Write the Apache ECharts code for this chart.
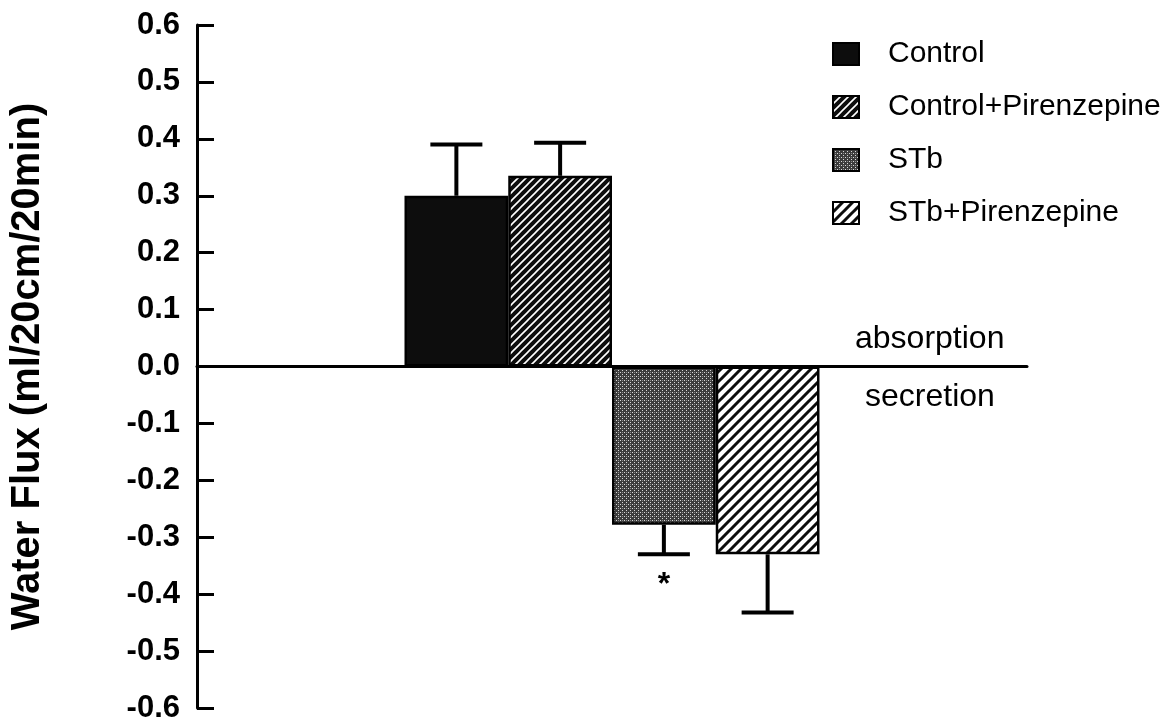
<!DOCTYPE html>
<html>
<head>
<meta charset="utf-8">
<script src="https://cdn.jsdelivr.net/npm/echarts@6/dist/echarts.min.js"></script>
<style>
html,body{margin:0;padding:0;background:#fff;}
#chart{width:1175px;height:725px;}
</style>
</head>
<body>
<div id="chart"></div>
<script>
// ---- data ----
const categories = ['Control', 'Control+Pirenzepine', 'STb', 'STb+Pirenzepine'];
const means = [0.30, 0.335, -0.278, -0.33];
const errors = [0.09, 0.058, 0.052, 0.102];
const significance = ['', '', '*', ''];
const yMin = -0.6, yMax = 0.6, yStep = 0.1;
const axisTitle = 'Water Flux (ml/20cm/20min)';
const zoneAbove = 'absorption';
const zoneBelow = 'secretion';

const FONT = 'Liberation Sans, Arial, Helvetica, sans-serif';

// ---- fill patterns ----
function makeTile(w, h, draw) {
  const c = document.createElement('canvas');
  c.width = w; c.height = h;
  const ctx = c.getContext('2d');
  draw(ctx, w, h);
  return { image: c, repeat: 'repeat' };
}
function diag(ctx, s, color, lw) {
  ctx.strokeStyle = color; ctx.lineWidth = lw;
  ctx.beginPath();
  for (let k = -1; k <= 1; k++) {
    ctx.moveTo(k * s - 1, s + 1);
    ctx.lineTo(k * s + s + 1, -1);
  }
  ctx.stroke();
}
const fills = [
  '#0d0d0d',
  makeTile(8, 8, (ctx, w, h) => { ctx.fillStyle = '#0d0d0d'; ctx.fillRect(0, 0, w, h); diag(ctx, 8, '#ffffff', 1.6); }),
  makeTile(4, 4, (ctx, w, h) => { ctx.fillStyle = '#3c3c3c'; ctx.fillRect(0, 0, w, h); ctx.fillStyle = '#d8d8d8'; ctx.fillRect(0, 0, 1, 1); ctx.fillRect(2, 2, 1, 1); ctx.fillStyle = '#888'; ctx.fillRect(2, 0, 1, 1); }),
  makeTile(10, 10, (ctx, w, h) => { ctx.fillStyle = '#ffffff'; ctx.fillRect(0, 0, w, h); diag(ctx, 10, '#0d0d0d', 3); })
];

const padCats = ['_p1', '_p2'];
const padCatsEnd = ['_p3', '_p4'];
const xCats = padCats.concat(categories, padCatsEnd);

const chart = echarts.init(document.getElementById('chart'), null, { renderer: 'canvas' });

const barSeries = categories.map((name, i) => ({
  name: name,
  type: 'bar',
  data: [[name, means[i]]],
  barGap: '-100%',
  barCategoryGap: '0%',
  barWidth: '100%',
  itemStyle: { color: fills[i], borderColor: '#000', borderWidth: 2.5 },
  emphasis: { disabled: true },
  z: 2
}));

const errorSeries = {
  type: 'custom',
  name: 'err',
  data: categories.map((name, i) => [name, means[i], errors[i]]),
  z: 3,
  silent: true,
  renderItem: function (params, api) {
    const x = api.value(0);
    const m = api.value(1);
    const e = api.value(2);
    const end = m >= 0 ? m + e : m - e;
    const p0 = api.coord([x, m]);
    const p1 = api.coord([x, end]);
    const half = 26;
    const children = [
      { type: 'line', shape: { x1: p0[0], y1: p0[1], x2: p1[0], y2: p1[1] }, style: { stroke: '#000', lineWidth: 4 } },
      { type: 'line', shape: { x1: p1[0] - half, y1: p1[1], x2: p1[0] + half, y2: p1[1] }, style: { stroke: '#000', lineWidth: 4 } }
    ];
    const s = significance[params.dataIndex];
    if (s) {
      children.push({ type: 'text', style: { text: s, x: p1[0], y: p1[1] + 31, align: 'center', verticalAlign: 'middle', fontSize: 32, fontWeight: 'bold', fontFamily: FONT, fill: '#000' } });
    }
    return { type: 'group', children: children };
  }
};

chart.setOption({
  animation: false,
  backgroundColor: '#fff',
  grid: { left: 183, right: 148, top: 25, bottom: 17, containLabel: false },
  xAxis: {
    type: 'category',
    data: xCats,
    axisLine: { onZero: true, lineStyle: { color: '#000', width: 3 } },
    axisTick: { show: false },
    axisLabel: { show: false },
    splitLine: { show: false }
  },
  yAxis: {
    type: 'value',
    min: yMin, max: yMax, interval: yStep,
    name: axisTitle,
    nameLocation: 'middle',
    nameGap: 149,
    nameTextStyle: { fontSize: 40, fontWeight: 'bold', fontFamily: FONT, color: '#000' },
    axisLine: { show: true, onZero: false, lineStyle: { color: '#000', width: 3 } },
    axisTick: { show: true, inside: true, length: 17, lineStyle: { color: '#000', width: 3 } },
    axisLabel: {
      margin: 17, fontSize: 31, fontWeight: 'bold', fontFamily: FONT, color: '#000',
      formatter: v => (Math.abs(v) < 1e-9 ? 0 : v).toFixed(1)
    },
    splitLine: { show: false }
  },
  legend: {
    data: categories.map(n => ({ name: n, icon: 'rect' })),
    orient: 'vertical',
    left: 827, top: 34,
    itemWidth: 26, itemHeight: 22,
    itemGap: 23,
    selectedMode: false,
    textStyle: { fontSize: 30, fontFamily: FONT, color: '#000', lineHeight: 30, padding: [0, 0, 0, 24] }
  },
  graphic: [
    { type: 'text', left: 935 - 80, top: 343 - 20, style: { text: zoneAbove, fontSize: 32, fontFamily: FONT, fill: '#000' } },
    { type: 'text', left: 935 - 70, top: 401 - 20, style: { text: zoneBelow, fontSize: 32, fontFamily: FONT, fill: '#000' } }
  ],
  series: barSeries.concat([errorSeries])
});
</script>
</body>
</html>
